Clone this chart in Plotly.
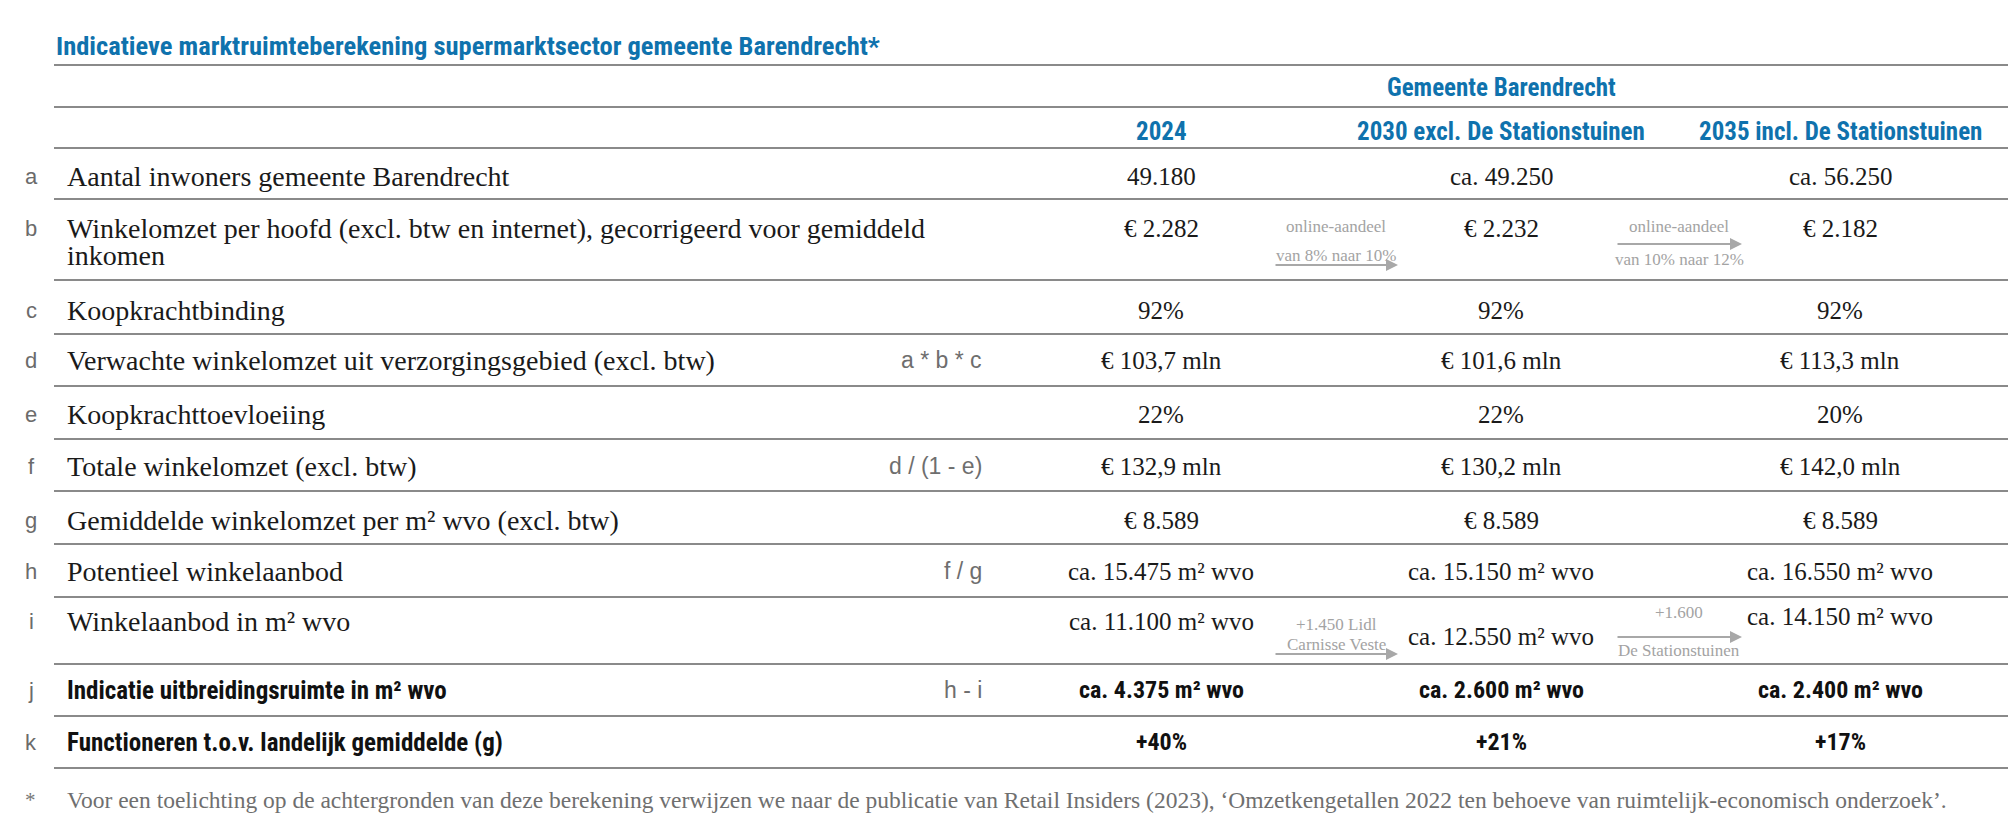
import plotly.graph_objects as go

# --- data ---
title = "Indicatieve marktruimteberekening supermarktsector gemeente Barendrecht*"
group_header = "Gemeente Barendrecht"
col_headers = ["2024", "2030 excl. De Stationstuinen", "2035 incl. De Stationstuinen"]

row_letters = ["a", "b", "c", "d", "e", "f", "g", "h", "i", "j", "k"]
row_labels = [
    "Aantal inwoners gemeente Barendrecht",
    "Winkelomzet per hoofd (excl. btw en internet), gecorrigeerd voor gemiddeld\ninkomen",
    "Koopkrachtbinding",
    "Verwachte winkelomzet uit verzorgingsgebied (excl. btw)",
    "Koopkrachttoevloeiing",
    "Totale winkelomzet (excl. btw)",
    "Gemiddelde winkelomzet per m² wvo (excl. btw)",
    "Potentieel winkelaanbod",
    "Winkelaanbod in m² wvo",
    "Indicatie uitbreidingsruimte in m² wvo",
    "Functioneren t.o.v. landelijk gemiddelde (g)",
]
formulas = ["", "", "", "a\u00a0*\u00a0b\u00a0*\u00a0c", "", "d / (1 - e)", "", "f / g", "", "h - i", ""]

values_2024 = ["49.180", "€ 2.282", "92%", "€ 103,7 mln", "22%", "€ 132,9 mln",
               "€ 8.589", "ca. 15.475 m² wvo", "ca. 11.100 m² wvo", "ca. 4.375 m² wvo", "+40%"]
values_2030 = ["ca. 49.250", "€ 2.232", "92%", "€ 101,6 mln", "22%", "€ 130,2 mln",
               "€ 8.589", "ca. 15.150 m² wvo", "ca. 12.550 m² wvo", "ca. 2.600 m² wvo", "+21%"]
values_2035 = ["ca. 56.250", "€ 2.182", "92%", "€ 113,3 mln", "20%", "€ 142,0 mln",
               "€ 8.589", "ca. 16.550 m² wvo", "ca. 14.150 m² wvo", "ca. 2.400 m² wvo", "+17%"]
bold_rows = ["j", "k"]

# arrow notes between columns: (row, between columns, first text, second text)
notes = [
    ("b", 0, "online-aandeel", "van 8% naar 10%"),
    ("b", 1, "online-aandeel", "van 10% naar 12%"),
    ("i", 0, "+1.450 Lidl", "Carnisse Veste"),
    ("i", 1, "+1.600", "De Stationstuinen"),
]

footnote = ("Voor een toelichting op de achtergronden van deze berekening verwijzen we naar de publicatie "
            "van Retail Insiders (2023), ‘Omzetkengetallen 2022 ten behoeve van ruimtelijk-economisch onderzoek’.")

# --- layout ---
W, H = 2016, 816
BLUE = "#0f72ad"
GREY_LINE = "#8a8a8a"
SERIF = "Liberation Serif, DejaVu Serif, serif"
NARROW = "Liberation Sans Narrow, Arial Narrow, Roboto Condensed, Liberation Sans, sans-serif"
SANS = "Liberation Sans, Arial, sans-serif"

x_left, x_right = 46, 2000
col_x = [1153, 1493, 1832]
formula_x = 976
row_y = [168, 220, 302, 352, 406, 458, 512, 563, 613, 682, 734]
value_dy = {("i", 1): 15, ("i", 2): -5}
rule_y = [57, 99, 140, 191, 272, 326, 378, 431, 483, 536, 589, 656, 708, 760]
arrow_x = [(1266, 1390), (1608, 1734)]
arrow_y = {("b", 0): 257, ("b", 1): 236, ("i", 0): 646, ("i", 1): 629}
# vertical offsets of the two note texts relative to the arrow
note_dy = {("b", 0): (-39, -10), ("b", 1): (-18, 15), ("i", 0): (-30, -10), ("i", 1): (-25, 13)}

fig = go.Figure()
ann = []


def txt(x, y, s, size, color, family, xanchor="left", bold=False):
    ann.append(dict(x=x, y=y, xref="x", yref="y", text=f"<b>{s}</b>" if bold else s,
                    showarrow=False, xanchor=xanchor, yanchor="middle",
                    font=dict(size=size, color=color, family=family)))


txt(x_left, 37, title, 26.5, BLUE, NARROW, bold=True)
txt(col_x[1], 79, group_header, 25, BLUE, NARROW, "center", bold=True)
for cx, h in zip(col_x, col_headers):
    txt(cx, 123, h, 25, BLUE, NARROW, "center", bold=True)

for i, letter in enumerate(row_letters):
    y = row_y[i]
    bold = letter in bold_rows
    txt(23, y, letter, 22, "#6b6b6b", SANS, "center")
    for k, line in enumerate(row_labels[i].split("\n")):
        if bold:
            txt(57, y + 27 * k, line, 25, "#111", NARROW, bold=True)
        else:
            txt(57, y + 27 * k, line, 28, "#1a1a1a", SERIF)
    if formulas[i]:
        txt(formula_x, y, formulas[i], 23, "#6e6e6e", SANS, "right")
    for c, vals in enumerate([values_2024, values_2030, values_2035]):
        vy = y + value_dy.get((letter, c), 0)
        if bold:
            txt(col_x[c], vy, vals[i], 24, "#111", NARROW, "center", bold=True)
        else:
            txt(col_x[c], vy, vals[i], 25, "#1a1a1a", SERIF, "center")

for letter, c, first, second in notes:
    ay = arrow_y[(letter, c)]
    x0, x1 = arrow_x[c]
    ann.append(dict(x=x1, y=ay, ax=x0, ay=ay, xref="x", yref="y", axref="x", ayref="y",
                    text="", showarrow=True, arrowhead=2, arrowsize=1.2, arrowwidth=2,
                    arrowcolor="#a8a8a8"))
    xm = (x0 + x1) / 2
    d1, d2 = note_dy[(letter, c)]
    txt(xm, ay + d1, first, 17, "#a3a3a3", SERIF, "center")
    txt(xm, ay + d2, second, 17, "#a3a3a3", SERIF, "center")

txt(22, 792, "*", 21, "#777", SERIF, "center")
txt(57, 792, footnote, 23.5, "#6f6f6f", SERIF)

shapes = [dict(type="line", xref="x", yref="y", x0=x_left, x1=x_right, y0=ry, y1=ry,
               line=dict(color=GREY_LINE, width=2)) for ry in rule_y]

fig.update_layout(
    width=W, height=H, margin=dict(l=0, r=0, t=0, b=0),
    paper_bgcolor="white", plot_bgcolor="white",
    xaxis=dict(range=[0, W], visible=False, fixedrange=True),
    yaxis=dict(range=[H, 0], visible=False, fixedrange=True),
    annotations=ann, shapes=shapes, showlegend=False,
)
fig.write_html("out.html")
